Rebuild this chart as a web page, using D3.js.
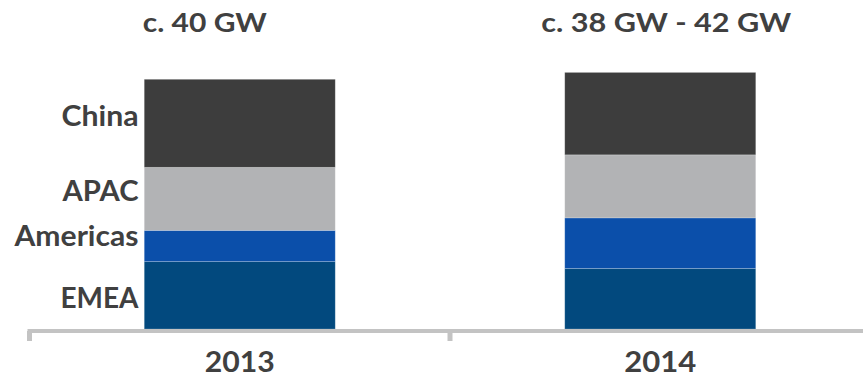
<!DOCTYPE html>
<html>
<head>
<meta charset="utf-8">
<script src="https://cdn.jsdelivr.net/npm/d3@7"></script>
<style>
  html, body { margin: 0; padding: 0; background: #fff; }
  svg { display: block; }
  text { font-family: Lato, "Open Sans", sans-serif; font-weight: 700; fill: #404040; }
</style>
</head>
<body>
<svg id="chart" width="863" height="379"></svg>
<script>
// Data (GW)
const years = ["2013", "2014"];
const regions = ["EMEA", "Americas", "APAC", "China"];
const emea     = [10.8, 9.7];
const americas = [5.0, 8.1];
const apac     = [10.1, 10.1];
const china    = [14.1, 13.2];
const totals   = ["c. 40 GW", "c. 38 GW - 42 GW"];

const colors = { EMEA: "#02497e", Americas: "#0b4faa", APAC: "#b2b3b5", China: "#3d3d3d" };

const rows = years.map((y, i) => ({ year: y, EMEA: emea[i], Americas: americas[i], APAC: apac[i], China: china[i] }));
const stacked = d3.stack().keys(regions)(rows);

const svg = d3.select("#chart");
const x = d3.scaleBand().domain(years).range([29.5, 870.5]).paddingInner(0).paddingOuter(0);
const barW = 191;
const y = d3.scaleLinear().domain([0, 40]).range([329, 79.3]);

// text widths of the original geometric face (px), to fit the fallback font
const fitWidth = {
  "China": 77, "APAC": 76, "Americas": 124, "EMEA": 78,
  "2013": 70, "2014": 72, "c. 40 GW": 124, "c. 38 GW - 42 GW": 250
};
function fit(sel) {
  sel.each(function (d) {
    const w = fitWidth[this.textContent];
    if (w) {
      this.setAttribute("textLength", w);
      this.setAttribute("lengthAdjust", "spacingAndGlyphs");
    }
  });
}

// bars
svg.append("g").selectAll("g").data(stacked).join("g")
  .attr("fill", d => colors[d.key])
  .selectAll("rect").data(d => d).join("rect")
  .attr("x", d => x(d.data.year) + (x.bandwidth() - barW) / 2)
  .attr("width", barW)
  .attr("y", d => y(d[1]))
  .attr("height", d => y(d[0]) - y(d[1]))
  .attr("stroke", "rgba(255,255,255,0.25)")
  .attr("stroke-width", 0.8);

// axis
const axis = d3.axisBottom(x).tickSize(12).tickSizeOuter(0).tickFormat("");
const gAxis = svg.append("g").attr("transform", "translate(0,331)").call(axis);
gAxis.select(".domain").attr("stroke", "#c3c3c3").attr("stroke-width", 4).attr("d", "M27.5,0H863");
gAxis.selectAll(".tick").remove();
const tickPos = [x.range()[0], x(years[1])];
gAxis.selectAll("line.bt").data(tickPos).join("line").attr("class", "bt")
  .attr("x1", d => d).attr("x2", d => d).attr("y1", 0).attr("y2", 10)
  .attr("stroke", "#c3c3c3").attr("stroke-width", 5);

// category labels
svg.append("g").selectAll("text").data(years).join("text")
  .attr("x", d => x(d) + x.bandwidth() / 2)
  .attr("y", 372)
  .attr("text-anchor", "middle")
  .style("font-size", "28px")
  .text(d => d)
  .call(fit);

// total labels
const totalOffsets = [-35, 6];
svg.append("g").selectAll("text").data(totals).join("text")
  .attr("x", (d, i) => x(years[i]) + x.bandwidth() / 2 + totalOffsets[i])
  .attr("y", 32)
  .attr("text-anchor", "middle")
  .style("font-size", "27px")
  .text(d => d)
  .call(fit);

// region labels (first bar)
const nudge = { EMEA: 2, Americas: -10, APAC: -8, China: -8 };
const first = stacked.map(s => ({ key: s.key, v0: s[0][0], v1: s[0][1] }));
svg.append("g").selectAll("text").data(first).join("text")
  .attr("x", 138.5)
  .attr("y", d => (y(d.v0) + y(d.v1)) / 2 + nudge[d.key])
  .attr("dy", "0.36em")
  .attr("text-anchor", "end")
  .style("font-size", "29px")
  .text(d => d.key)
  .call(fit);
</script>
</body>
</html>
